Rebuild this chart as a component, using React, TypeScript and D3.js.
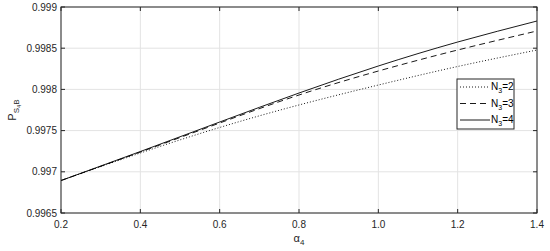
import React from "react";
import * as d3 from "d3";

// alpha_4 values
const alpha = [0.2, 0.4, 0.6, 0.8, 1.0, 1.2, 1.4];
// P_{S4B} for N3 = 2, 3, 4
const pN2 = [0.996894, 0.997228, 0.997538, 0.997811, 0.998053, 0.998278, 0.998478];
const pN3 = [0.996894, 0.99724, 0.997592, 0.997932, 0.998223, 0.998478, 0.998709];
const pN4 = [0.996894, 0.997246, 0.997604, 0.997956, 0.998284, 0.998575, 0.99883];

const xTicks = [0.2, 0.4, 0.6, 0.8, 1.0, 1.2, 1.4];
const yTicks = [0.9965, 0.997, 0.9975, 0.998, 0.9985, 0.999];

const series = [
  { label: "2", values: pN2, dash: "1,2" },
  { label: "3", values: pN3, dash: "6,4" },
  { label: "4", values: pN4, dash: "" },
];

const W = 550;
const H = 251;
const m = { left: 61, right: 13, top: 7, bottom: 38 };
const font = "'Liberation Sans', Arial, Helvetica, sans-serif";
const axisColor = "#262626";

export default function App() {
  const x = d3.scaleLinear().domain([0.2, 1.4]).range([m.left, W - m.right]);
  const y = d3.scaleLinear().domain([0.9965, 0.999]).range([H - m.bottom, m.top]);
  const line = d3
    .line<number>()
    .x((_, i) => x(alpha[i]))
    .y((d) => y(d))
    .curve(d3.curveNatural);

  const x0 = x.range()[0];
  const x1 = x.range()[1];
  const y0 = y.range()[0];
  const y1 = y.range()[1];
  const tk = 4;

  const lx = 457;
  const ly = 79;

  return (
    <svg
      width={W}
      height={H}
      style={{ position: "absolute", left: 0, top: 0, background: "#fff" }}
      fontFamily={font}
    >
      {/* grid */}
      <g stroke="#e3e3e3" strokeWidth={1}>
        {xTicks.map((t) => (
          <line key={"gx" + t} x1={x(t)} x2={x(t)} y1={y0} y2={y1} />
        ))}
        {yTicks.map((t) => (
          <line key={"gy" + t} x1={x0} x2={x1} y1={y(t)} y2={y(t)} />
        ))}
      </g>

      {/* curves */}
      <g fill="none" stroke="#000" strokeWidth={0.9}>
        {series.map((s) => (
          <path key={s.label} d={line(s.values) || ""} strokeDasharray={s.dash} />
        ))}
      </g>

      {/* box + ticks */}
      <g stroke={axisColor} strokeWidth={1} fill="none">
        <rect x={x0} y={y1} width={x1 - x0} height={y0 - y1} />
        {xTicks.map((t) => (
          <g key={"tx" + t}>
            <line x1={x(t)} x2={x(t)} y1={y0} y2={y0 - tk} />
            <line x1={x(t)} x2={x(t)} y1={y1} y2={y1 + tk} />
          </g>
        ))}
        {yTicks.map((t) => (
          <g key={"ty" + t}>
            <line x1={x0} x2={x0 + tk} y1={y(t)} y2={y(t)} />
            <line x1={x1} x2={x1 - tk} y1={y(t)} y2={y(t)} />
          </g>
        ))}
      </g>

      {/* tick labels */}
      <g fontSize={10} fill={axisColor}>
        {xTicks.map((t) => (
          <text key={"lx" + t} x={x(t)} y={y0 + 15} textAnchor="middle">
            {d3.format(".1f")(t)}
          </text>
        ))}
        {yTicks.map((t) => (
          <text key={"ly" + t} x={x0 - 4} y={y(t) + 3.5} textAnchor="end">
            {String(t)}
          </text>
        ))}
      </g>

      {/* axis labels */}
      <text x={(x0 + x1) / 2} y={242} textAnchor="middle" fontSize={11} fill={axisColor}>
        α<tspan fontSize={8} dy={3}>4</tspan>
      </text>
      <text
        transform={`translate(16,${(y0 + y1) / 2}) rotate(-90)`}
        textAnchor="middle"
        fontSize={11}
        fill={axisColor}
      >
        P<tspan fontSize={8} dy={3}>S</tspan>
        <tspan fontSize={6} dy={2}>4</tspan>
        <tspan fontSize={8} dy={-2}>B</tspan>
      </text>

      {/* legend */}
      <g>
        <rect x={lx} y={ly} width={57} height={50} fill="#fff" stroke={axisColor} strokeWidth={1} />
        {series.map((s, i) => {
          const cy = ly + 8 + i * 16.5;
          return (
            <g key={"lg" + s.label}>
              <line
                x1={lx + 3}
                x2={lx + 33}
                y1={cy}
                y2={cy}
                stroke="#000"
                strokeWidth={0.9}
                strokeDasharray={s.dash}
              />
              <text x={lx + 34} y={cy + 3} fontSize={10} fill="#000">
                N<tspan fontSize={7} dy={3}>3</tspan>
                <tspan dy={-3}>={s.label}</tspan>
              </text>
            </g>
          );
        })}
      </g>
    </svg>
  );
}
